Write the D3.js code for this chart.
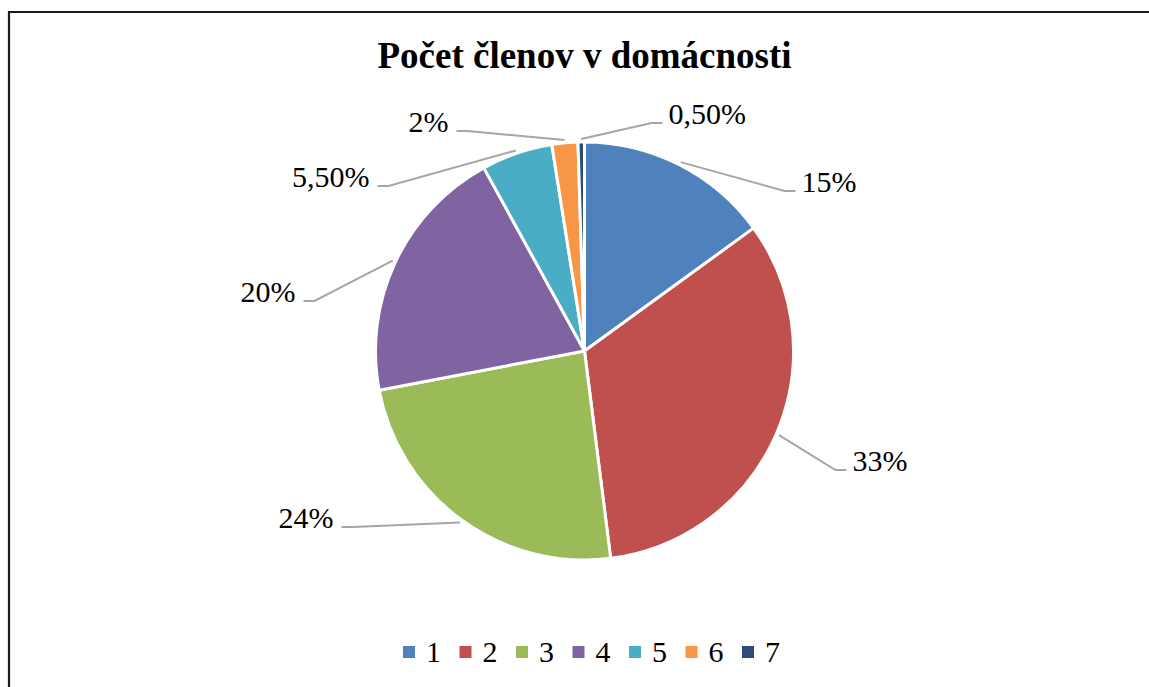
<!DOCTYPE html>
<html>
<head>
<meta charset="utf-8">
<script src="https://cdn.jsdelivr.net/npm/d3@7"></script>
<style>
  body { margin: 0; background: #fff; }
  svg { display: block; font-family: "Liberation Serif", "Times New Roman", serif; }
</style>
</head>
<body>
<div id="chart"></div>
<script>
const categories = ["1", "2", "3", "4", "5", "6", "7"];
const values = [15, 33, 24, 20, 5.5, 2, 0.5];
const valueLabels = ["15%", "33%", "24%", "20%", "5,50%", "2%", "0,50%"];
const colors = ["#4F81BD", "#C0504D", "#9BBB59", "#8064A2", "#4BACC6", "#F79646", "#2C4D75"];

// where each leader line bends, relative to the pie centre
const labelOffsets = [[200, -160], [251, 119], [-232, 176], [-270, -50], [-196, -165], [-117, -220], [67, -228]];

const width = 1149, height = 687;
const cx = 584.5, cy = 351, radius = 209;

const svg = d3.select("#chart").append("svg")
    .attr("width", width)
    .attr("height", height);

// frame (right and bottom edges run off the picture)
svg.append("path")
    .attr("d", `M9 ${height + 5} V12 H${width + 5}`)
    .attr("fill", "none")
    .attr("stroke", "#1a1a1a")
    .attr("stroke-width", 2.2);

svg.append("text")
    .attr("x", cx)
    .attr("y", 68)
    .attr("text-anchor", "middle")
    .attr("font-size", 37)
    .attr("font-weight", "bold")
    .text("Počet členov v domácnosti");

const pie = d3.pie().sort(null).value(d => d);
const arcs = pie(values);
const arc = d3.arc().innerRadius(0).outerRadius(radius);

const g = svg.append("g").attr("transform", `translate(${cx},${cy})`);

g.selectAll("path.slice")
    .data(arcs)
    .join("path")
    .attr("class", "slice")
    .attr("d", arc)
    .attr("fill", (d, i) => colors[i])
    .attr("stroke", "#fff")
    .attr("stroke-width", 3)
    .attr("stroke-linejoin", "round");

// leader lines + labels
arcs.forEach((d, i) => {
    const mid = (d.startAngle + d.endAngle) / 2;
    const start = d3.pointRadial(mid, radius + 3);
    const elbow = labelOffsets[i];
    const right = elbow[0] > 0;
    const end = [elbow[0] + (right ? 11 : -11), elbow[1]];

    g.append("polyline")
        .attr("points", [start, elbow, end].map(p => p.join(",")).join(" "))
        .attr("fill", "none")
        .attr("stroke", "#a6a6a6")
        .attr("stroke-width", 2);

    g.append("text")
        .attr("x", end[0] + (right ? 6 : -8))
        .attr("y", end[1] + 1)
        .attr("text-anchor", right ? "start" : "end")
        .attr("font-size", 30)
        .text(valueLabels[i]);
});

// legend
const legendX = d3.scalePoint().domain(categories).range([403, 742]);
const legend = svg.append("g").attr("transform", "translate(0,652)");
const items = legend.selectAll("g")
    .data(categories)
    .join("g")
    .attr("transform", d => `translate(${legendX(d)},0)`);

items.append("rect")
    .attr("x", 0).attr("y", -6)
    .attr("width", 12).attr("height", 12)
    .attr("fill", (d, i) => colors[i]);

items.append("text")
    .attr("x", 23)
    .attr("y", 10)
    .attr("font-size", 30)
    .text(d => d);
</script>
</body>
</html>
